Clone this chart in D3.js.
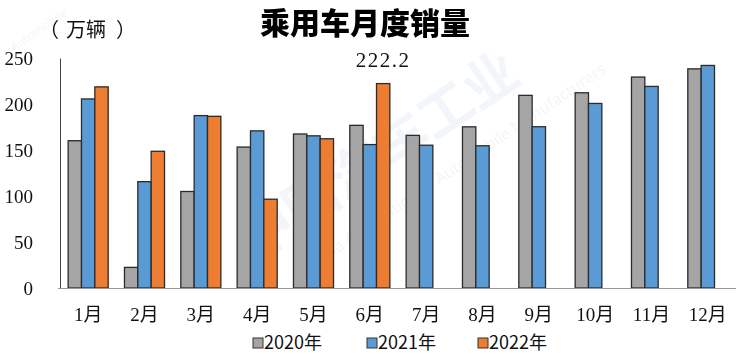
<!DOCTYPE html>
<html lang="zh">
<head>
<meta charset="UTF-8">
<title>乘用车月度销量</title>
<script src="https://d3js.org/d3.v7.min.js"></script>
<style>
    body { margin: 0; background: #fff; }
    svg { display: block; }
</style>
</head>
<body>
<div id="chart"></div>
<script>
    // values (万辆)
    const months = ["1月", "2月", "3月", "4月", "5月", "6月", "7月", "8月", "9月", "10月", "11月", "12月"];
    const years = ["2020年", "2021年", "2022年"];
    const sales2020 = [160.1, 22.4, 104.9, 153.2, 167.4, 176.8, 165.9, 175.2, 209.4, 212.2, 229.3, 238.2];
    const sales2021 = [205.5, 115.6, 187.4, 170.8, 165.4, 155.9, 155.2, 154.6, 175.3, 200.6, 219.1, 241.9];
    const sales2022 = [218.6, 148.6, 186.6, 96.5, 162.2, 222.2];
    const yTicks = [0, 50, 100, 150, 200, 250];
    const labelled = { year: "2022年", month: "6月", text: "222.2" };

    const colors = { "2020年": "#a5a5a5", "2021年": "#5b9bd5", "2022年": "#ed7d31" };

    const width = 744, height = 354;
    const plotLeft = 60, plotRight = 736, plotTop = 58, plotBottom = 288;

    const svg = d3.select("#chart").append("svg")
        .attr("width", width)
        .attr("height", height);

    // faint watermark
    const wm = svg.append("g").attr("fill", "#e3e9f2").attr("opacity", 0.45);
    wm.append("text")
        .attr("transform", "translate(255,262) rotate(-34)")
        .attr("font-family", "'Noto Sans CJK SC', sans-serif")
        .attr("font-weight", 700)
        .attr("font-size", 54)
        .text("中国汽车工业");
    wm.append("text")
        .attr("transform", "translate(310,272) rotate(-34)")
        .attr("font-family", "'Noto Sans', sans-serif")
        .attr("font-size", 16)
        .text("China Association of Automobile Manufacturers");
    wm.append("text")
        .attr("transform", "translate(14,52) rotate(-34)")
        .attr("font-family", "'Noto Sans', sans-serif")
        .attr("font-size", 12)
        .text("Automobile");

    const x = d3.scaleBand().domain(months).range([plotLeft, plotRight]);
    const x1 = d3.scaleBand().domain(years).range([0, x.bandwidth()]).paddingOuter(0.61);
    const y = d3.scaleLinear().domain([0, 250]).range([plotBottom, plotTop]);

    const series = [
        { year: "2020年", values: sales2020 },
        { year: "2021年", values: sales2021 },
        { year: "2022年", values: sales2022 }
    ];

    const bars = series.flatMap(s => s.values.map((v, i) => ({ year: s.year, month: months[i], value: v })));

    // title
    svg.append("text")
        .attr("x", 365).attr("y", 34)
        .attr("text-anchor", "middle")
        .attr("font-family", "'Noto Sans CJK SC', sans-serif")
        .attr("font-weight", 900)
        .attr("font-size", 30)
        .attr("fill", "#000")
        .text("乘用车月度销量");

    // unit, with the wide full-width brackets of the original
    const unit = svg.append("text")
        .attr("x", 39).attr("y", 37)
        .attr("font-family", "'Noto Sans CJK TC', sans-serif")
        .attr("font-size", 20)
        .attr("fill", "#111");
    unit.append("tspan").text("（");
    unit.append("tspan").attr("dx", 7).text("万辆");
    unit.append("tspan").attr("dx", 10).text("）");

    // bars
    svg.append("g")
        .selectAll("rect")
        .data(bars)
        .join("rect")
        .attr("x", d => x(d.month) + x1(d.year))
        .attr("y", d => y(d.value))
        .attr("width", x1.bandwidth())
        .attr("height", d => y(0) - y(d.value))
        .attr("fill", d => colors[d.year])
        .attr("stroke", "#2b2b2b")
        .attr("stroke-width", 1.3);

    // y axis
    const yAxis = svg.append("g")
        .attr("transform", `translate(${plotLeft},0)`)
        .call(d3.axisLeft(y).tickValues(yTicks).tickSize(0).tickPadding(27));
    yAxis.select(".domain").attr("stroke", "#444").attr("stroke-width", 1);
    yAxis.selectAll("text")
        .attr("font-family", "'Liberation Serif', serif")
        .attr("font-size", 19)
        .attr("fill", "#111");

    // x axis
    const xAxis = svg.append("g")
        .attr("transform", `translate(0,${plotBottom})`)
        .call(d3.axisBottom(x).tickSize(0).tickPadding(20));
    xAxis.select(".domain").attr("stroke", "#999").attr("stroke-width", 1.2)
        .attr("d", `M${plotLeft - 2},0.5H${plotRight}`);
    xAxis.selectAll("text")
        .attr("font-family", "'Liberation Serif', 'Noto Sans CJK SC', serif")
        .attr("font-size", 19)
        .attr("fill", "#111");

    // data label
    const lv = sales2022[months.indexOf(labelled.month)];
    svg.append("text")
        .attr("x", x(labelled.month) + x1(labelled.year) + x1.bandwidth() / 2)
        .attr("y", y(lv) - 17)
        .attr("text-anchor", "middle")
        .attr("font-family", "'Liberation Serif', serif")
        .attr("font-size", 21)
        .attr("letter-spacing", 1.5)
        .attr("fill", "#111")
        .text(labelled.text);

    // legend
    const legendX = [253, 367, 478];
    const legend = svg.append("g")
        .selectAll("g")
        .data(years)
        .join("g")
        .attr("transform", (d, i) => `translate(${legendX[i]},343)`);
    legend.append("rect")
        .attr("x", 0).attr("y", -5)
        .attr("width", 10).attr("height", 10)
        .attr("fill", d => colors[d])
        .attr("stroke", "#333")
        .attr("stroke-width", 1);
    legend.append("text")
        .attr("x", 11).attr("y", 6)
        .attr("font-family", "'Noto Sans CJK SC', sans-serif")
        .attr("font-size", 18)
        .attr("fill", "#111")
        .text(d => d);
</script>
</body>
</html>
